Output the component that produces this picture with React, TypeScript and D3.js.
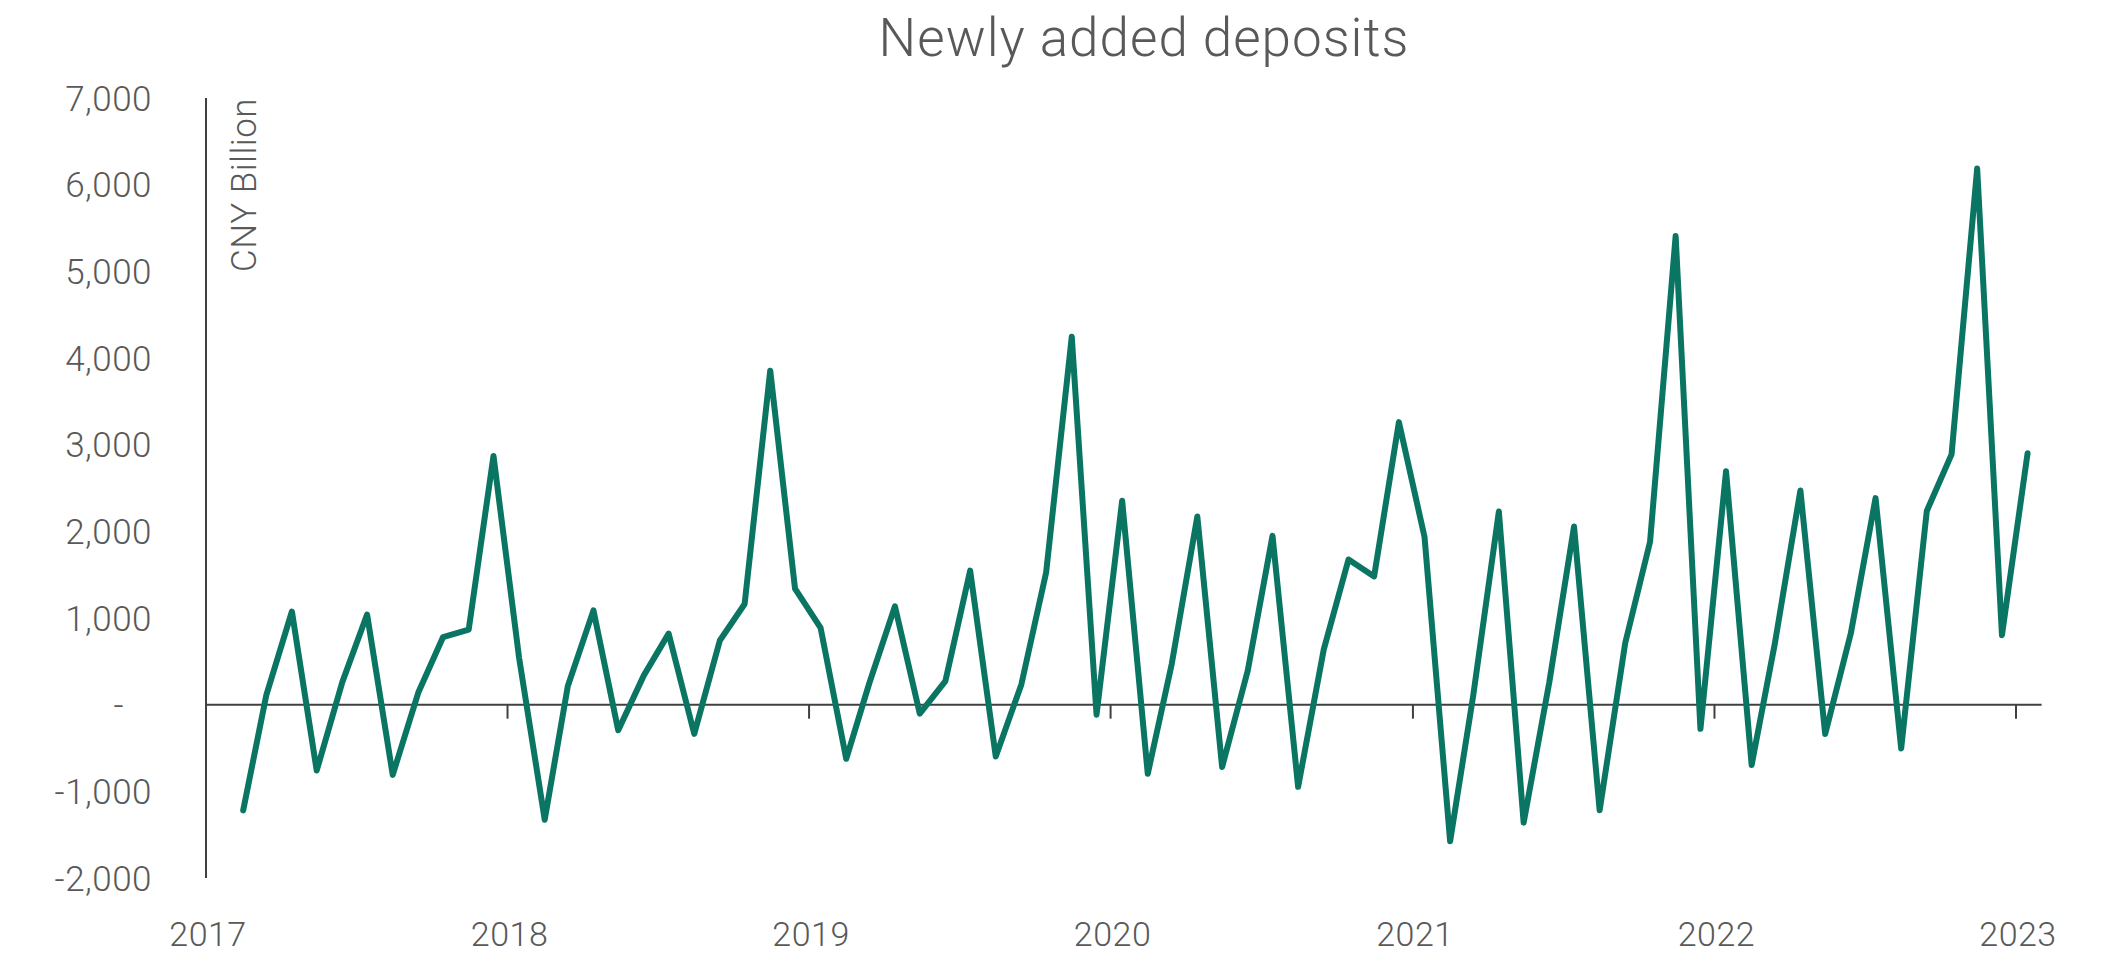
import React from "react";
import * as d3 from "d3";

const title = "Newly added deposits";
const yAxisTitle = "CNY Billion";
const startMonth = new Date(2017, 1, 1); // Feb 2017
const endMonth = new Date(2023, 1, 1); // exclusive -> last is Jan 2023
const values = [
  // 2017 Feb-Dec
  -1220, 110, 1075, -760, 260, 1040, -810, 140, 780, 865, 2870,
  // 2018
  540, -1327, 215, 1088, -296, 338, 820, -337, 740, 1161, 3854, 1339,
  // 2019
  885, -625, 250, 1135, -104, 271, 1547, -599, 234, 1526, 4245, -115,
  // 2020
  2354, -797, 469, 2172, -719, 391, 1948, -948, 635, 1675, 1480, 3260,
  // 2021
  1937, -1575, 107, 2228, -1361, 255, 2056, -1218, 713, 1878, 5407, -279,
  // 2022
  2692, -695, 701, 2472, -339, 820, 2383, -505, 2234, 2888, 6186, 802,
  // 2023
  2900,
];
const yTicks = [-2000, -1000, 0, 1000, 2000, 3000, 4000, 5000, 6000, 7000];
const yearTicks = [2017, 2018, 2019, 2020, 2021, 2022, 2023];

const W = 2127;
const H = 958;
const FONT = "Roboto, 'Liberation Sans', Arial, sans-serif";
const TEXT = "#595959";
const AXIS = "#404040";
const LINE = "#0b7563";

export default function App() {
  const months = d3.timeMonth.range(startMonth, endMonth);
  const data = months.map((m, i) => ({ date: d3.timeDay.offset(m, 14), v: values[i] }));

  const x = d3
    .scaleTime()
    .domain([new Date(2017, 0, 1), new Date(2023, 0, 1)])
    .range([206, 2016]);
  const y = d3.scaleLinear().domain([-2000, 7000]).range([878, 98]);

  const line = d3
    .line<{ date: Date; v: number }>()
    .x((d) => x(d.date))
    .y((d) => y(d.v));

  const fmt = (v: number) => d3.format(",")(v).replace("−", "-");
  const x0 = x(new Date(2017, 0, 1));
  const xEnd = x(new Date(2023, 1, 1));

  return (
    <svg
      width={W}
      height={H}
      style={{ position: "absolute", left: 0, top: 0, display: "block", background: "#fff" }}
      fontFamily={FONT}
    >
      <text x={1144} y={56} textAnchor="middle" fontSize={53} fontWeight={300} fill={TEXT} letterSpacing={1}>
        {title}
      </text>

      {yTicks.map((t) => (
        <text
          key={t}
          x={t === 0 ? 124 : 152}
          y={y(t)}
          dy="0.36em"
          textAnchor="end"
          fontSize={35}
          fontWeight={300}
          fill={TEXT}
          letterSpacing={0.5}
        >
          {t === 0 ? "-" : fmt(t)}
        </text>
      ))}

      <text
        transform={`translate(256, ${y(7000)}) rotate(-90)`}
        textAnchor="end"
        fontSize={35}
        fontWeight={300}
        fill={TEXT}
        letterSpacing={0.5}
      >
        {yAxisTitle}
      </text>

      <line x1={x0} x2={x0} y1={y(7000)} y2={y(-2000)} stroke={AXIS} strokeWidth={2} />
      <line x1={x0} x2={xEnd} y1={y(0)} y2={y(0)} stroke={AXIS} strokeWidth={2} />

      {yearTicks.map((yr) => {
        const xx = x(new Date(yr, 0, 1));
        return (
          <g key={yr}>
            <line x1={xx} x2={xx} y1={y(0)} y2={y(0) + 14} stroke={AXIS} strokeWidth={2} />
            <text x={xx + 2} y={946} textAnchor="middle" fontSize={34} fontWeight={300} fill={TEXT} letterSpacing={0.5}>
              {yr}
            </text>
          </g>
        );
      })}

      <path
        d={line(data) || ""}
        fill="none"
        stroke={LINE}
        strokeWidth={6}
        strokeLinejoin="round"
        strokeLinecap="round"
      />
    </svg>
  );
}
